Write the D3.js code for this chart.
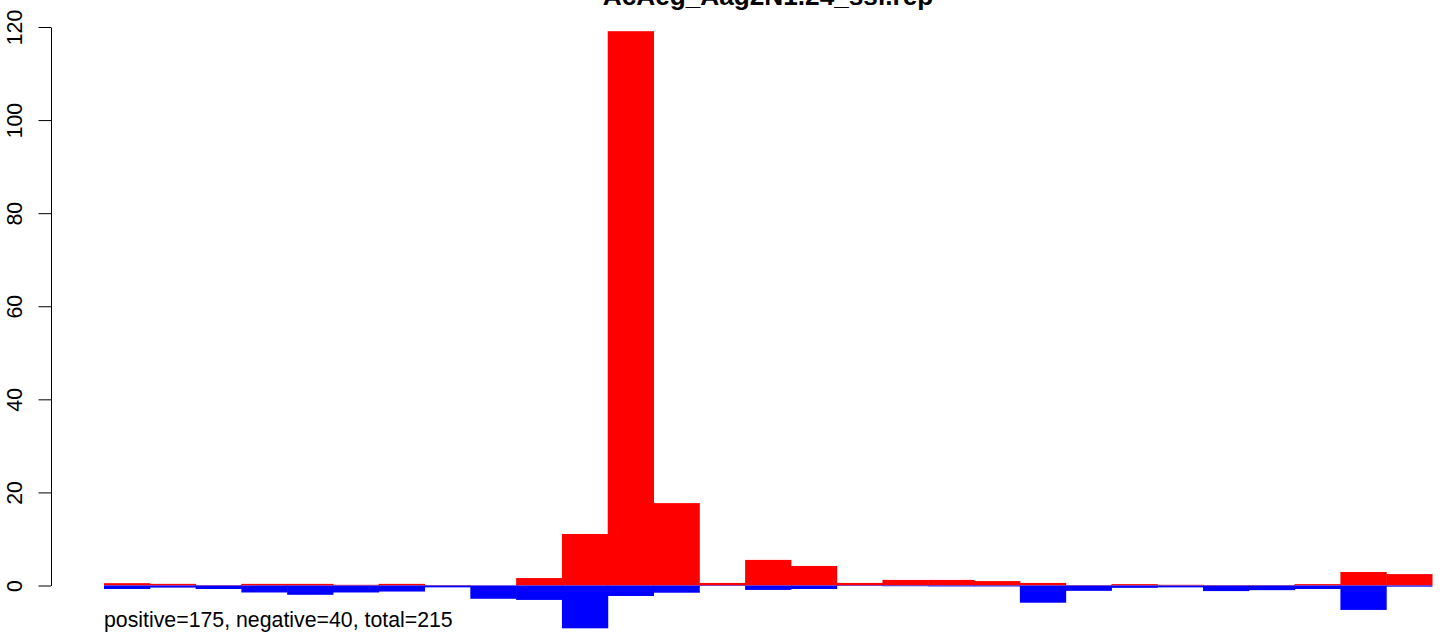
<!DOCTYPE html>
<html>
<head>
<meta charset="utf-8">
<script src="https://cdn.jsdelivr.net/npm/d3@7"></script>
<style>
  html, body { margin: 0; padding: 0; background: #fff; }
  svg { display: block; }
  text { font-family: "Liberation Sans", Arial, sans-serif; }
</style>
</head>
<body>
<script>
// ---- data ----
const bins = d3.range(1, 30).map(String);
const positiveValues = [0.5, 0.35, 0.1, 0.35, 0.35, 0.15, 0.35, 0.1, 0.05, 1.6,
  11.07, 119.1, 17.7, 0.55, 5.5, 4.2, 0.55, 1.2, 1.2, 0.95,
  0.55, 0.1, 0.3, 0.15, 0.1, 0.1, 0.3, 2.9, 2.45];
const negativeValues = [0.75, 0.45, 0.75, 1.5, 2.0, 1.5, 1.3, 0.4, 2.85, 3.1,
  9.2, 2.25, 1.55, 0.1, 0.95, 0.75, 0.1, 0.15, 0.2, 0.2,
  3.7, 1.15, 0.5, 0.4, 1.2, 1.0, 0.75, 5.25, 0.25];
const yTicks = [0, 20, 40, 60, 80, 100, 120];
const titleText = "AcAeg_Aag2N1.24_ssl.rep";
const noteText = "positive=175, negative=40, total=215";

// ---- layout ----
const W = 1444, H = 634;
const svg = d3.select("body").append("svg").attr("width", W).attr("height", H);

const x = d3.scaleBand().domain(bins).range([104, 1432]).padding(0);
const y = d3.scaleLinear().domain([0, 120]).range([585.5, 27]);

// positive bars
svg.append("g").selectAll("rect").data(bins).join("rect")
  .attr("x", d => x(d))
  .attr("width", x.bandwidth() + 0.5)
  .attr("y", (d, i) => y(positiveValues[i]))
  .attr("height", (d, i) => y(0) - y(positiveValues[i]))
  .attr("fill", "#ff0000");

// negative bars
svg.append("g").selectAll("rect").data(bins).join("rect")
  .attr("x", d => x(d))
  .attr("width", x.bandwidth() + 0.5)
  .attr("y", y(0))
  .attr("height", (d, i) => y(-negativeValues[i]) - y(0))
  .attr("fill", "#0000ff");

// y axis
const axis = d3.axisLeft(y).tickValues(yTicks).tickSize(12.5).tickSizeOuter(0).tickFormat(d3.format("d"));
const gA = svg.append("g").attr("transform", "translate(51,0)").call(axis);
gA.select(".domain").attr("stroke", "#000").attr("stroke-width", 1);
gA.selectAll(".tick line").attr("stroke", "#000").attr("stroke-width", 1);
gA.selectAll(".tick text").remove();
gA.selectAll(".tick").append("text")
  .attr("transform", "translate(-29,0) rotate(-90)")
  .attr("text-anchor", "middle")
  .attr("fill", "#000")
  .attr("font-size", 21.3)
  .text(d => d);

// title
svg.append("text")
  .attr("x", 768).attr("y", 5)
  .attr("text-anchor", "middle")
  .attr("font-weight", "bold")
  .attr("font-size", 26.2)
  .attr("fill", "#000")
  .text(titleText);

// note
svg.append("text")
  .attr("x", 104).attr("y", 627)
  .attr("font-size", 21.3)
  .attr("fill", "#000")
  .text(noteText);
</script>
</body>
</html>
